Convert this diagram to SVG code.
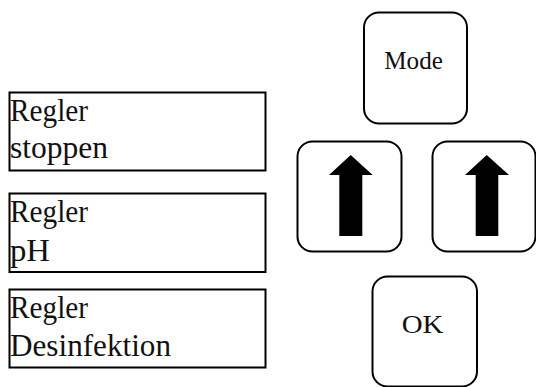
<svg xmlns="http://www.w3.org/2000/svg" width="536" height="387" viewBox="0 0 536 387">
<style>
.box{fill:#fff;stroke:#000;stroke-width:2}
.key{fill:#fff;stroke:#000;stroke-width:2}
.t{font-family:"Liberation Serif","Times New Roman",serif;font-size:31px;fill:#111}
.k{font-family:"Liberation Serif","Times New Roman",serif;font-size:25px;fill:#111}
.arrow{fill:#000}
</style>
<g id="regler-stoppen">
<rect class="box" x="9.5" y="92.5" width="256" height="78"/>
<text class="t" x="10" y="120.5" textLength="78" lengthAdjust="spacingAndGlyphs">Regler</text>
<text class="t" x="10" y="158" textLength="98" lengthAdjust="spacingAndGlyphs">stoppen</text>
</g>
<g id="regler-ph">
<rect class="box" x="9.5" y="193.5" width="256" height="78.5"/>
<text class="t" x="10" y="221.5" textLength="78" lengthAdjust="spacingAndGlyphs">Regler</text>
<text class="t" x="10" y="260.5" textLength="40" lengthAdjust="spacingAndGlyphs">pH</text>
</g>
<g id="regler-desinfektion">
<rect class="box" x="9.5" y="289.5" width="256" height="78"/>
<text class="t" x="10" y="317.5" textLength="78" lengthAdjust="spacingAndGlyphs">Regler</text>
<text class="t" x="10" y="356" textLength="161" lengthAdjust="spacingAndGlyphs">Desinfektion</text>
</g>
<g id="mode">
<rect class="key" x="364" y="12.5" width="103" height="111" rx="15" ry="15"/>
<text class="k" x="384.3" y="69.3" textLength="58.5" lengthAdjust="spacingAndGlyphs">Mode</text>
</g>
<g id="up-left">
<rect class="key" x="297.5" y="141.5" width="104" height="110" rx="15" ry="15"/>
<polygon class="arrow" points="350.7,155 372.7,175 362.3,175 362.3,236 339.3,236 339.3,175 329,175"/>
</g>
<g id="up-right">
<rect class="key" x="432.5" y="141.5" width="103" height="110" rx="15" ry="15"/>
<polygon class="arrow" points="486.7,155 509,175 498.3,175 498.3,236 475.7,236 475.7,175 465,175"/>
</g>
<g id="ok">
<rect class="key" x="372.5" y="276.5" width="104.5" height="110" rx="15" ry="15"/>
<text class="k" x="401.7" y="333.3" textLength="41.7" lengthAdjust="spacingAndGlyphs">OK</text>
</g>
<g id="connectors"></g>
</svg>
